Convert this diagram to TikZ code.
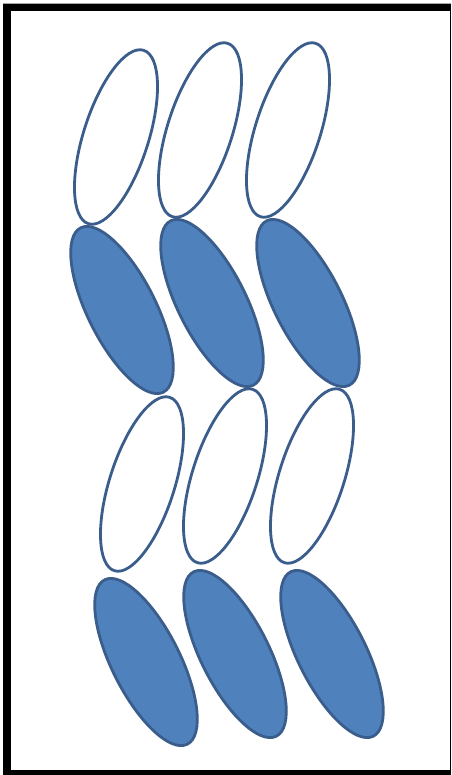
\documentclass[tikz,border=0pt]{standalone}
\usetikzlibrary{shapes.geometric}
\definecolor{edgeblue}{HTML}{3A5D8C}
\definecolor{fillblue}{HTML}{4F81BD}
\begin{document}
\begin{tikzpicture}[x=1pt,y=1pt,
  openell/.style={ellipse, draw=edgeblue, line width=2.8pt, fill=white, inner sep=0pt,
     minimum width=65pt, minimum height=182pt, rotate=-17.7},
  fullell/.style={ellipse, draw=edgeblue, line width=2.8pt, fill=fillblue, inner sep=0pt,
     minimum width=68pt, minimum height=184pt, rotate=26.7}]
\useasboundingbox (0,0) rectangle (451,-775);
\fill[white] (0,0) rectangle (451,-775);
\fill[black!35] (3,-3) rectangle (451,-4);
\fill[black] (3,-4) rectangle (451,-775);
\fill[white] (11,-11) rectangle (449.5,-770);
% row 1
\node[openell] (a1) at (116,-137) {};
\node[openell] (a2) at (200,-130) {};
\node[openell] (a3) at (288,-130) {};
% row 2
\node[fullell] (b1) at (122,-310) {};
\node[fullell] (b2) at (212,-303) {};
\node[fullell] (b3) at (308,-303) {};
% row 3
\node[openell] (c1) at (142,-484) {};
\node[openell] (c2) at (225,-476) {};
\node[openell] (c3) at (312,-476) {};
% row 4
\node[fullell] (d1) at (146,-662) {};
\node[fullell] (d2) at (235,-654) {};
\node[fullell] (d3) at (332,-654) {};
\end{tikzpicture}
\end{document}
